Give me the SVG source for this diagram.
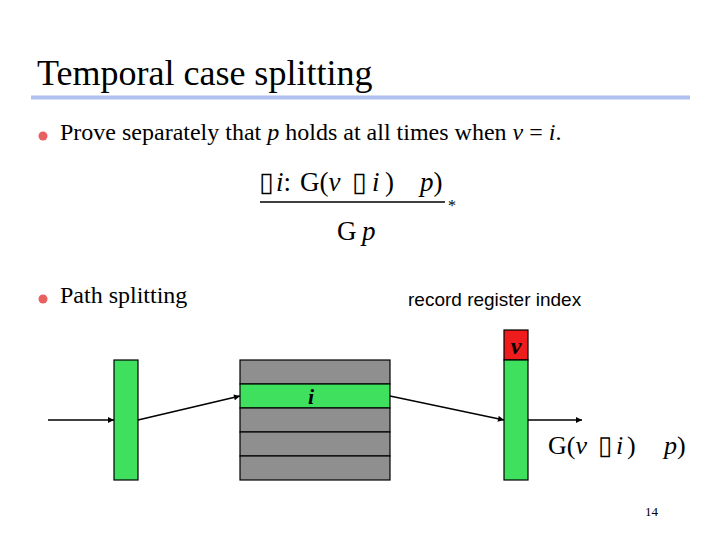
<svg xmlns="http://www.w3.org/2000/svg" width="720" height="540" viewBox="0 0 720 540">
<defs>
<style>
.serif{font-family:"Liberation Serif","Times New Roman",serif;fill:#000}
.it{font-style:italic}
.sans{font-family:"Liberation Sans",Arial,sans-serif;fill:#000}
.green{fill:#3ee05e;stroke:#000;stroke-width:1.2}
.gray{fill:#8f8f8f;stroke:#000;stroke-width:1.2}
.red{fill:#ee1c1c;stroke:#000;stroke-width:1.2}
.conn{stroke:#000;stroke-width:1.5;fill:none;marker-end:url(#ah)}
.bullet{fill:#e86060}
</style>
<marker id="ah" viewBox="0 0 10 10" refX="10" refY="5" markerWidth="8" markerHeight="6" markerUnits="userSpaceOnUse" orient="auto">
<path d="M0,0 L10,5 L0,10 z" fill="#000"/>
</marker>
</defs>
<rect width="720" height="540" fill="#fff"/>
<g id="title">
<text class="serif" x="37" y="85" font-size="36">Temporal case splitting</text>
<rect x="31" y="95.5" width="659" height="4" fill="#b0c0f0"/>
</g>
<g id="bullet1">
<circle class="bullet" cx="43" cy="136" r="4.5"/>
<text class="serif" x="60" y="140" font-size="24">Prove separately that <tspan class="it">p</tspan> holds at all times when <tspan class="it">v</tspan> = <tspan class="it">i</tspan>.</text>
</g>
<g id="rule">
<text class="serif" font-size="27" y="191"><tspan x="259">▯</tspan><tspan x="276" class="it">i</tspan><tspan>:</tspan><tspan x="300">G(</tspan><tspan class="it">v</tspan><tspan x="352">▯</tspan><tspan x="372" class="it">i</tspan><tspan x="385">)</tspan><tspan x="420" class="it">p</tspan><tspan>)</tspan></text>
<line x1="260" y1="202" x2="445" y2="202" stroke="#000" stroke-width="1.5"/>
<text class="serif" x="448" y="211" font-size="16">*</text>
<text class="serif" font-size="27" y="240"><tspan x="337">G</tspan><tspan x="362" class="it">p</tspan></text>
</g>
<g id="bullet2">
<circle class="bullet" cx="43" cy="299" r="4.5"/>
<text class="serif" x="60" y="303" font-size="24">Path splitting</text>
</g>
<text class="sans" x="408" y="306" font-size="19">record register index</text>
<g id="left-bar">
<rect class="green" x="114" y="360" width="24" height="120"/>
</g>
<g id="stack">
<rect class="gray" x="240" y="360" width="150" height="24"/>
<rect class="green" x="240" y="384" width="150" height="24"/>
<rect class="gray" x="240" y="408" width="150" height="24"/>
<rect class="gray" x="240" y="432" width="150" height="24"/>
<rect class="gray" x="240" y="456" width="150" height="24"/>
<text class="serif" x="311" y="404" font-size="22" font-style="italic" font-weight="bold" text-anchor="middle">i</text>
</g>
<g id="right-bar">
<rect class="red" x="504" y="330" width="24" height="30"/>
<rect class="green" x="504" y="360" width="24" height="120"/>
<text class="serif" x="516" y="354" font-size="24" font-style="italic" font-weight="bold" text-anchor="middle">v</text>
</g>
<g id="connectors">
<line class="conn" x1="48" y1="420" x2="114" y2="420"/>
<line class="conn" x1="138" y1="420" x2="240" y2="396"/>
<line class="conn" x1="390" y1="396" x2="504" y2="420"/>
<line class="conn" x1="528" y1="420" x2="582" y2="420"/>
</g>
<g id="result">
<text class="serif" font-size="26" y="454"><tspan x="548">G(</tspan><tspan class="it">v</tspan><tspan x="598">▯</tspan><tspan x="616" class="it">i</tspan><tspan x="627">)</tspan><tspan x="664" class="it">p</tspan><tspan>)</tspan></text>
</g>
<text class="serif" x="645" y="516" font-size="13">14</text>
</svg>
